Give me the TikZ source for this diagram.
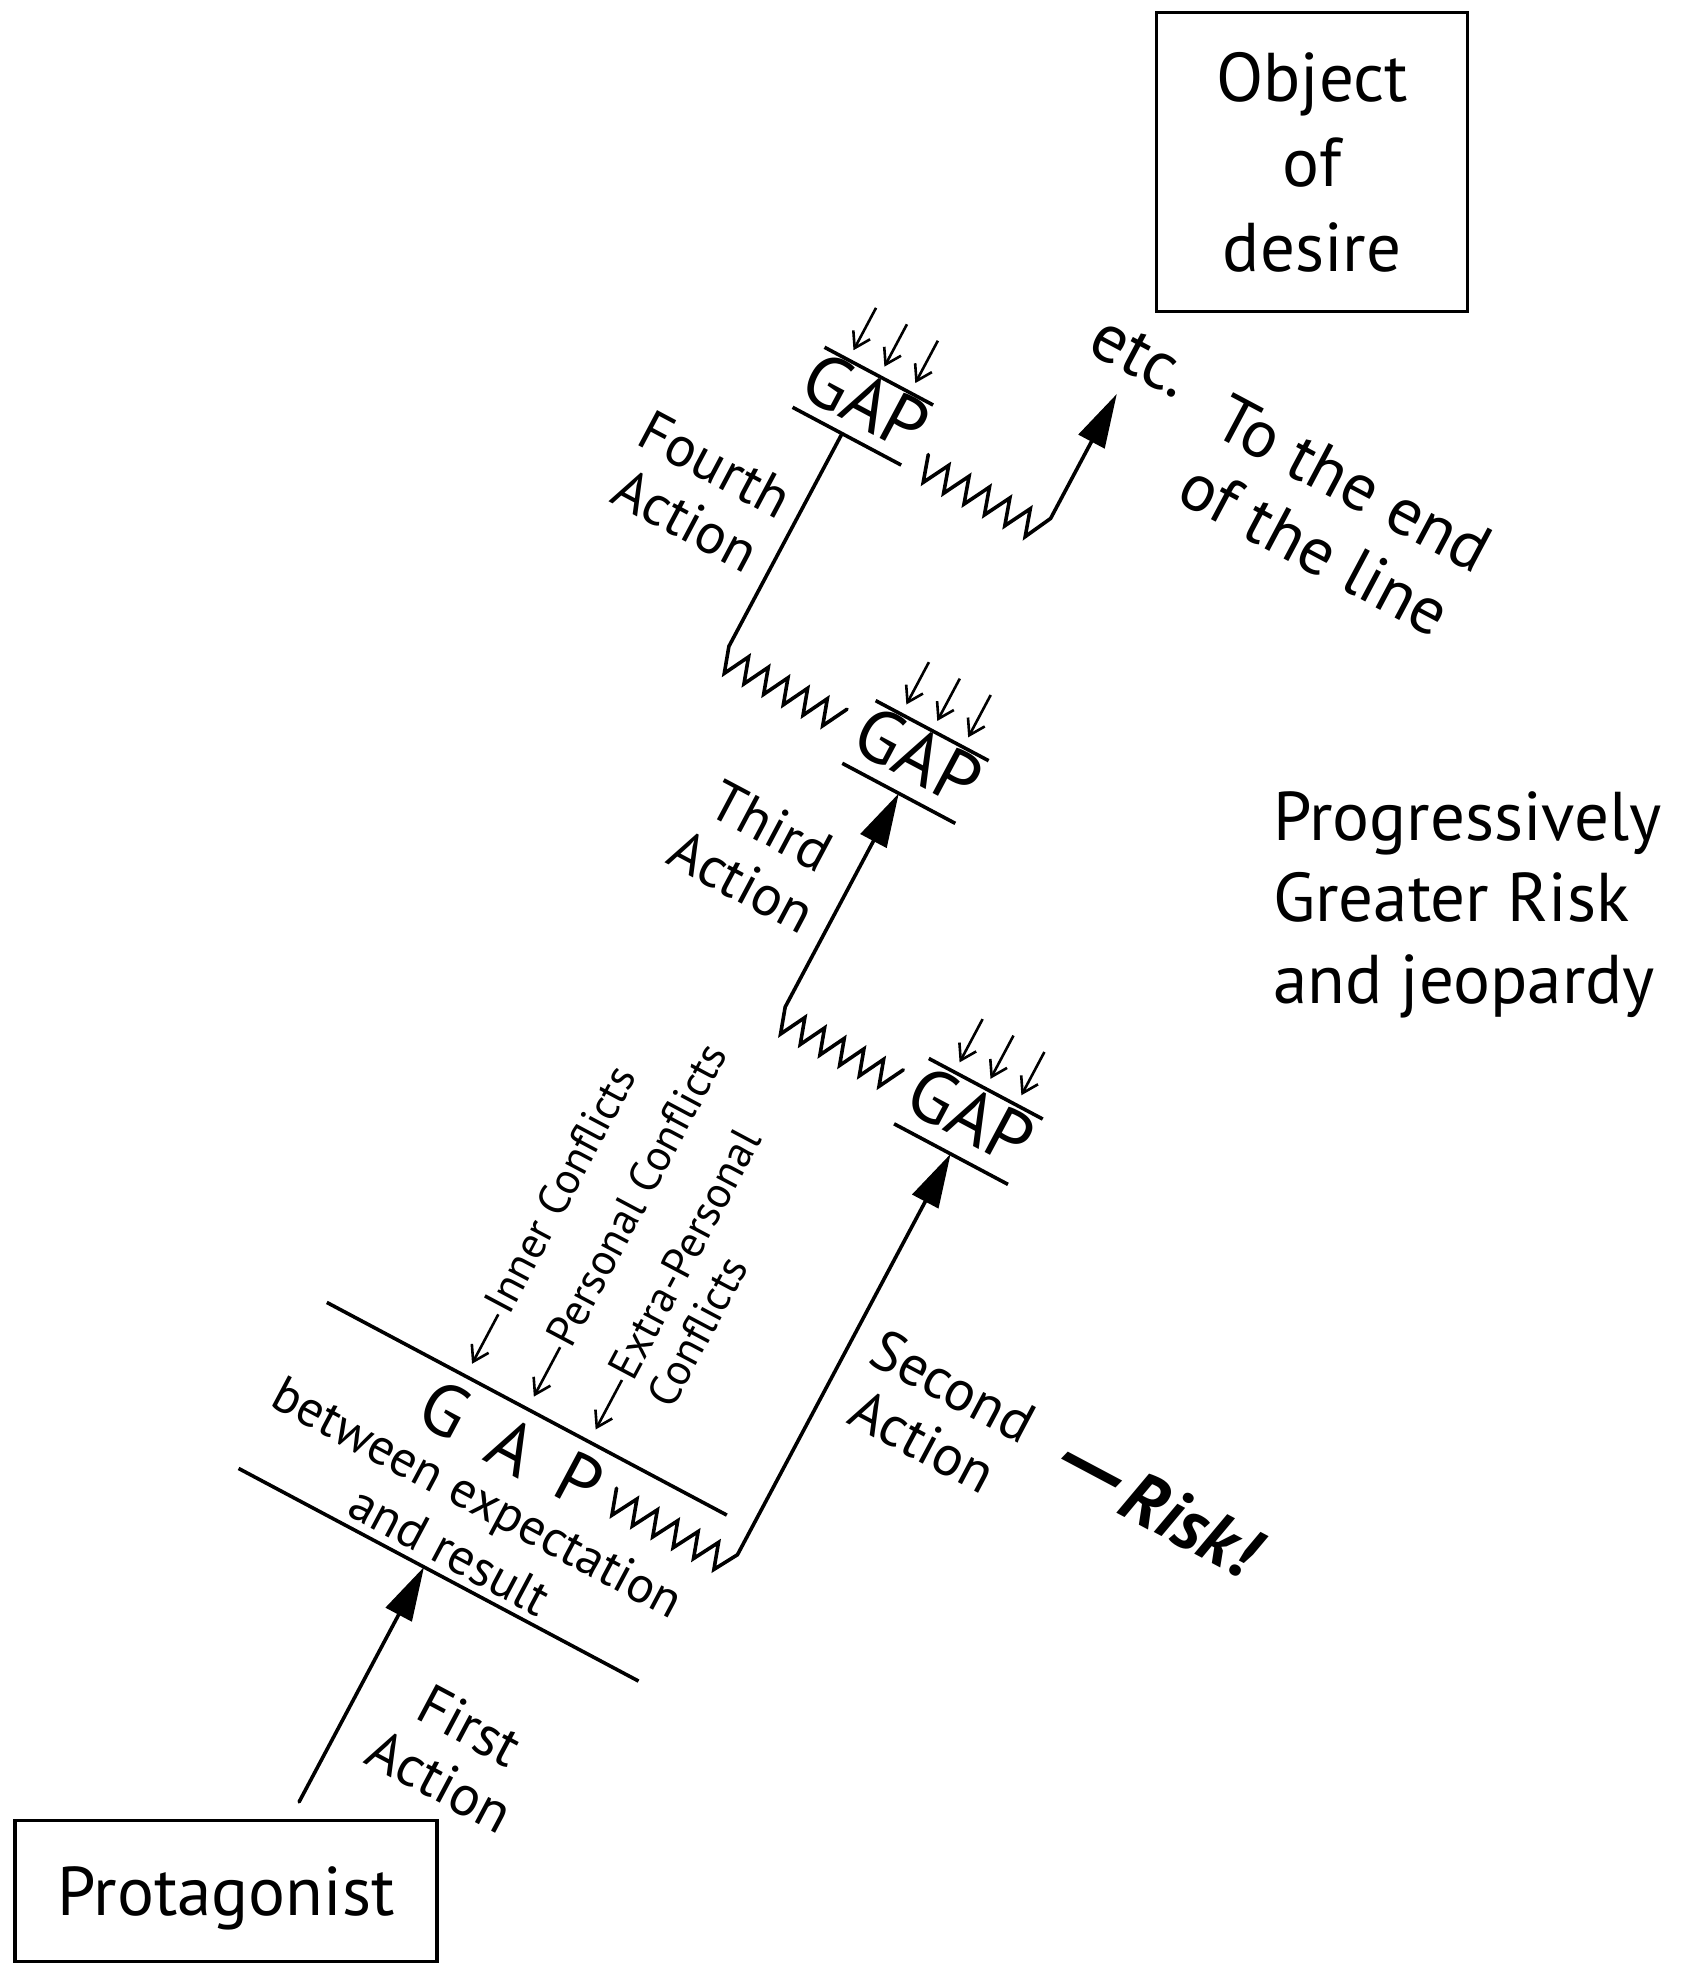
\documentclass[tikz,border=0pt]{standalone}
\usepackage{fontspec}
\setmainfont{PT Sans}
\usetikzlibrary{arrows.meta}
\newcommand\setfs[2]{\fontsize{#1}{#2}\selectfont}
\begin{document}
\begin{tikzpicture}[x=1pt,y=-1pt,
  ln/.style={line width=3.6pt, line join=miter, line cap=round},
  gapline/.style={line width=3.6pt},
  bigarrow/.style={ln, -{Triangle[length=54pt,width=29pt]}},
  tinyarrow/.style={line width=2.6pt, -{Straight Barb[length=15pt,width=19pt]}},
  box/.style={draw, line width=3.4pt, inner sep=0pt},
  mainlbl/.style={font=\setfs{69}{82}, inner sep=0pt},
  actlbl/.style={font=\setfs{57}{63}, align=center, inner sep=0pt},
  gaptxt/.style={font=\setfs{74}{74}, inner sep=0pt},
  biggap/.style={font=\setfs{73}{73}, inner sep=0pt},
  conflbl/.style={font=\setfs{44}{48}, inner sep=0pt, anchor=base west, rotate=90},
]
\useasboundingbox (0,0) rectangle (1695,1966);

% boxes
\node[box, minimum width=311pt, minimum height=299pt, align=center, font=\setfs{69}{85}] (obj) at (1312,162) {Object\\of\\desire};
\node[box, minimum width=422pt, minimum height=141pt, font=\setfs{69}{70}, text depth=0pt] (prot) at (226,1891) {Protagonist};

% right text
\node[mainlbl, anchor=base west] (pr1) at (1273,840) {Progressively};
\node[mainlbl, anchor=base west] (pr2) at (1273,921) {Greater Risk};
\node[mainlbl, anchor=base west] (pr3) at (1273,1003) {and jeopardy};

\begin{scope}[shift={(424,1567)}, rotate=-28, x=1pt, y=1pt, every node/.append style={transform shape}]
  % ---------- GAP 1 (big) ----------
  \coordinate (g1LL) at (-210,0);   \coordinate (g1LR) at (243,0);
  \coordinate (g1UL) at (-210,188); \coordinate (g1UR) at (243,188);
  \draw[gapline] (g1LL) -- (g1LR);
  \draw[gapline] (g1UL) -- (g1UR);
  \node[biggap] (g1G) at (-55,149) {G};
  \node[biggap] (g1A) at (22,148) {A};
  \node[biggap] (g1P) at (97,150) {P};
  \node[font=\setfs{51}{60}, align=center, inner sep=0pt] (g1sub) at (15,57) {between expectation\\and result};
  \coordinate (a1s) at (0,-266);
  \coordinate (a1e) at (0,0);
  \draw[bigarrow] (a1s) -- (a1e);
  \node[actlbl] (l1) at (115,-150) {First\\Action};

  % conflicts
  \coordinate (c1s) at (-53,258); \coordinate (c1e) at (-53,202);
  \coordinate (c2s) at (17,258);  \coordinate (c2e) at (17,202);
  \coordinate (c3s) at (87,258);  \coordinate (c3e) at (87,202);
  \draw[tinyarrow] (c1s) -- (c1e);
  \draw[tinyarrow] (c2s) -- (c2e);
  \draw[tinyarrow] (c3s) -- (c3e);
  \node[conflbl] (cf1) at (-42,261) {Inner Conflicts};
  \node[conflbl] (cf2) at (28,261) {Personal Conflicts};
  \node[conflbl] (cf3) at (98,261) {Extra-Personal};
  \node[conflbl] (cf3b) at (146,255) {Conflicts};

  % zigzag 1 + second action
  \coordinate (z1s) at (133,160);
  \coordinate (z1c) at (271,158);
  \coordinate (g2tip) at (271,612);
  \draw[bigarrow] (z1s) -- (141.6,134) -- (156.1,160) -- (164.7,134) -- (179.2,160) -- (187.8,134)
     -- (202.3,160) -- (210.9,134) -- (225.4,160) -- (234,134) -- (248.5,160) -- (257.1,134)
     -- (z1c) -- (g2tip);
  \node[actlbl] (l2) at (382,377) {Second\\Action};
  \node[font=\setfs{72}{72}\bfseries\itshape, inner sep=0pt] (risk) at (614,398) {\scalebox{1.5}[1.25]{—}Risk!};

  % ---------- GAP 2 ----------
  \coordinate (g2LL) at (207,612); \coordinate (g2LR) at (336,612);
  \coordinate (g2UL) at (207,686); \coordinate (g2UR) at (336,686);
  \draw[gapline] (g2LL) -- (g2LR);
  \draw[gapline] (g2UL) -- (g2UR);
  \node[gaptxt] (g2t) at (271,655) {GAP};
  \foreach \aa [count=\i] in {236,271,306} {
    \coordinate (g2a\i s) at (\aa,746); \coordinate (g2a\i e) at (\aa,697);
    \draw[tinyarrow] (g2a\i s) -- (g2a\i e);
  }

  % zigzag 2 + third action
  \coordinate (z2e) at (189.8,664);
  \coordinate (z2c) at (56,664);
  \coordinate (g3tip) at (56,906);
  \draw[bigarrow] (z2e) -- (176.1,638) -- (167.5,664) -- (153.8,638) -- (145.2,664) -- (131.5,638)
     -- (122.9,664) -- (109.2,638) -- (100.6,664) -- (86.9,638) -- (78.3,664) -- (64.6,638)
     -- (z2c) -- (g3tip);
  \node[actlbl] (l3) at (-41,786) {Third\\Action};

  % ---------- GAP 3 ----------
  \coordinate (g3LL) at (-8,906);  \coordinate (g3LR) at (120,906);
  \coordinate (g3UL) at (-8,977);  \coordinate (g3UR) at (120,977);
  \draw[gapline] (g3LL) -- (g3LR);
  \draw[gapline] (g3UL) -- (g3UR);
  \node[gaptxt] (g3t) at (56,948) {GAP};
  \foreach \aa [count=\i] in {21,56,91} {
    \coordinate (g3a\i s) at (\aa,1036); \coordinate (g3a\i e) at (\aa,988);
    \draw[tinyarrow] (g3a\i s) -- (g3a\i e);
  }

  % zigzag 3 + fourth action
  \coordinate (z3e) at (-29.2,956);
  \coordinate (z3c) at (-163,956);
  \coordinate (g4tip) at (-163,1197);
  \draw[ln] (z3e) -- (-42.9,930) -- (-51.5,956) -- (-65.2,930) -- (-73.8,956) -- (-87.5,930)
     -- (-96.1,956) -- (-109.8,930) -- (-118.4,956) -- (-132.1,930) -- (-140.7,956) -- (-154.4,930)
     -- (z3c) -- (g4tip);
  \node[actlbl] (l4) at (-260,1079) {Fourth\\Action};

  % ---------- GAP 4 ----------
  \coordinate (g4LL) at (-219,1197); \coordinate (g4LR) at (-96,1197);
  \coordinate (g4UL) at (-219,1265); \coordinate (g4UR) at (-96,1265);
  \draw[gapline] (g4LL) -- (g4LR);
  \draw[gapline] (g4UL) -- (g4UR);
  \node[gaptxt] (g4t) at (-157,1236) {GAP};
  \foreach \aa [count=\i] in {-192,-157,-122} {
    \coordinate (g4a\i s) at (\aa,1324); \coordinate (g4a\i e) at (\aa,1276);
    \draw[tinyarrow] (g4a\i s) -- (g4a\i e);
  }

  % zigzag 4 + arrow to etc.
  \coordinate (z4s) at (-77,1219);
  \coordinate (z4c) at (61,1220);
  \coordinate (etctip) at (61,1361);
  \draw[bigarrow] (z4s) -- (-68.4,1192) -- (-53.9,1219) -- (-45.3,1192) -- (-30.8,1219) -- (-22.2,1192)
     -- (-7.7,1219) -- (0.9,1192) -- (15.4,1219) -- (24,1192) -- (38.5,1219) -- (47.1,1192)
     -- (z4c) -- (etctip);
  \node[mainlbl] (etc) at (65,1405) {etc.};
  \node[mainlbl, align=left, font=\setfs{67}{76}] (eol) at (312,1355) {To the end\\of the line};
\end{scope}
\end{tikzpicture}
\end{document}
